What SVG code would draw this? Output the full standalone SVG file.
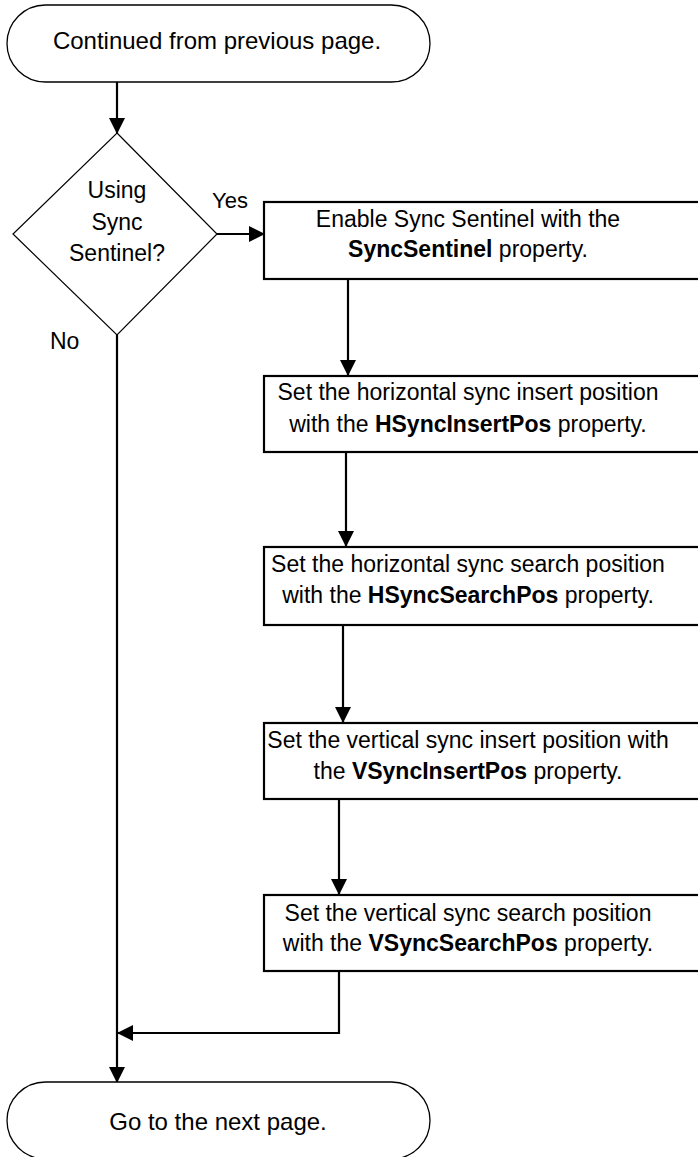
<svg xmlns="http://www.w3.org/2000/svg" width="698" height="1157" viewBox="0 0 698 1157">
  <style>
    text { font-family: "Liberation Sans", Arial, sans-serif; font-size: 23px; fill: #000; }
    .c { text-anchor: middle; }
    .b { font-weight: bold; }
    .t { font-size: 24px; }
    .term { fill: #fff; stroke: #000; stroke-width: 1.3; }
    .dec { fill: #fff; stroke: #000; stroke-width: 1.2; }
    .box { fill: #fff; stroke: #000; stroke-width: 2.2; }
    .wire { fill: none; stroke: #000; stroke-width: 2.2; }
  </style>
  <defs>
    <marker id="arrow" viewBox="0 0 16 16" refX="15" refY="8" markerWidth="16" markerHeight="16" markerUnits="userSpaceOnUse" orient="auto">
      <path d="M0,0 L16,8 L0,16 z" fill="#000"/>
    </marker>
  </defs>
  <rect width="698" height="1157" fill="#fff"/>

  <!-- connectors -->
  <g id="connectors" class="wire">
    <path d="M117,82 V133" marker-end="url(#arrow)"/>
    <path d="M217,234 H264" marker-end="url(#arrow)"/>
    <path d="M348,279 V375" marker-end="url(#arrow)"/>
    <path d="M346,452 V546" marker-end="url(#arrow)"/>
    <path d="M343,625 V722" marker-end="url(#arrow)"/>
    <path d="M339,799 V894" marker-end="url(#arrow)"/>
    <path d="M339,971 V1033 H118" marker-end="url(#arrow)"/>
    <path d="M117,335 V1082" marker-end="url(#arrow)"/>
  </g>

  <!-- start terminal -->
  <g id="start">
    <rect class="term" x="7" y="5" width="423" height="77" rx="38.5" ry="38.5"/>
    <text class="c t" x="217" y="49">Continued from previous page.</text>
  </g>

  <!-- decision -->
  <g id="decision">
    <polygon class="dec" points="117,133 217,234 117,335 13,234"/>
    <text class="c" x="117" y="198">Using</text>
    <text class="c" x="117" y="230">Sync</text>
    <text class="c" x="117" y="261">Sentinel?</text>
    <text x="212" y="208" style="font-size:22px">Yes</text>
    <text x="50" y="349">No</text>
  </g>

  <!-- process steps -->
  <g id="step1">
    <rect class="box" x="264" y="202" width="440" height="77"/>
    <text class="c" x="468" y="227">Enable Sync Sentinel with the</text>
    <text class="c" x="468" y="257"><tspan class="b">SyncSentinel</tspan> property.</text>
  </g>
  <g id="step2">
    <rect class="box" x="264" y="376" width="440" height="76"/>
    <text class="c" x="468" y="400">Set the horizontal sync insert position</text>
    <text class="c" x="468" y="432">with the <tspan class="b">HSyncInsertPos</tspan> property.</text>
  </g>
  <g id="step3">
    <rect class="box" x="264" y="547" width="440" height="78"/>
    <text class="c" x="468" y="572">Set the horizontal sync search position</text>
    <text class="c" x="468" y="603">with the <tspan class="b">HSyncSearchPos</tspan> property.</text>
  </g>
  <g id="step4">
    <rect class="box" x="264" y="723" width="440" height="76"/>
    <text class="c" x="468" y="748">Set the vertical sync insert position with</text>
    <text class="c" x="468" y="779">the <tspan class="b">VSyncInsertPos</tspan> property.</text>
  </g>
  <g id="step5">
    <rect class="box" x="264" y="895" width="440" height="76"/>
    <text class="c" x="468" y="921">Set the vertical sync search position</text>
    <text class="c" x="468" y="951">with the <tspan class="b">VSyncSearchPos</tspan> property.</text>
  </g>

  <!-- end terminal -->
  <g id="end">
    <rect class="term" x="7" y="1082" width="423" height="77" rx="38.5" ry="38.5"/>
    <text class="c t" x="218" y="1130">Go to the next page.</text>
  </g>
</svg>
